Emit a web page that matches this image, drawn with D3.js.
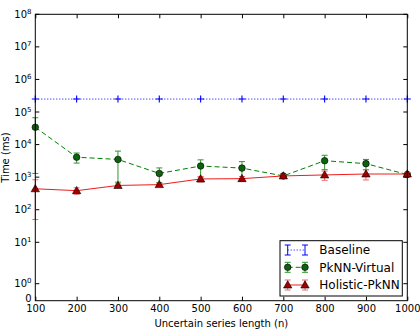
<!DOCTYPE html>
<html>
<head>
<meta charset="utf-8">
<script src="https://cdn.jsdelivr.net/npm/d3@7"></script>
<style>
  body { margin: 0; background: #fff; }
  svg { font-family: "DejaVu Sans", sans-serif; }
</style>
</head>
<body>
<div id="chart"></div>
<script>
// series length n
const lengths = [100, 200, 300, 400, 500, 600, 700, 800, 900, 1000];
// time in ms, with std error
const baseline = [2.5e5, 2.5e5, 2.5e5, 2.5e5, 2.5e5, 2.5e5, 2.5e5, 2.5e5, 2.5e5, 2.5e5];
const baselineErr = [0, 0, 0, 0, 0, 0, 0, 0, 0, 0];
const pknn = [34000, 4100, 3500, 1300, 2200, 1900, 1090, 3200, 2600, 1200];
const pknnErr = [32700, 1400, 2800, 620, 1200, 1100, 100, 1500, 900, 150];
const holistic = [440, 385, 556, 590, 880, 900, 1090, 1170, 1250, 1250];
const holisticErr = [390, 85, 60, 60, 170, 150, 100, 370, 430, 120];
const yTicks = [0, 1, 10, 100, 1e3, 1e4, 1e5, 1e6, 1e7, 1e8];
const names = ['Baseline', 'PkNN-Virtual', 'Holistic-PkNN'];

const W = 420, H = 334;
const L = 35.3, R = 407.3, T = 14.3, B = 300.7;

const svg = d3.select('#chart').append('svg')
    .attr('width', W)
    .attr('height', H);

const x = d3.scaleLinear().domain([100, 1000]).range([L, R]);
// symlog-like y: linear near zero, log above 10
const ylog = d3.scaleLog().domain([10, 1e8]).range([242.3, T]);
const ylin = d3.scaleLinear().domain([0, 1, 10]).range([B, 283.7, 242.3]);
const y = v => v >= 10 ? ylog(v) : ylin(Math.max(0, v));

// x axes (ticks pointing inwards)
svg.append('g')
    .attr('transform', `translate(0,${B})`)
    .call(d3.axisBottom(x).tickValues(lengths).tickFormat(d3.format('d')).tickSize(-4).tickPadding(4).tickSizeOuter(0))
    .call(g => g.select('.domain').remove())
    .call(g => g.selectAll('text').attr('font-size', 10).attr('fill', '#000').attr('font-family', 'DejaVu Sans'));

svg.append('g')
    .attr('transform', `translate(0,${T})`)
    .call(d3.axisTop(x).tickValues(lengths).tickSize(-4).tickFormat('').tickSizeOuter(0))
    .call(g => g.select('.domain').remove());

// y ticks, both sides
const yt = svg.append('g');
yt.selectAll('line.l').data(yTicks.slice(1)).enter().append('line')
    .attr('x1', L).attr('x2', L + 4)
    .attr('y1', d => y(d)).attr('y2', d => y(d))
    .attr('stroke', '#000');
yt.selectAll('line.r').data(yTicks.slice(1)).enter().append('line')
    .attr('x1', R).attr('x2', R - 4)
    .attr('y1', d => y(d)).attr('y2', d => y(d))
    .attr('stroke', '#000');

const lab = yt.selectAll('text').data(yTicks).enter().append('text')
    .attr('x', 31.5)
    .attr('y', d => d === 0 ? y(d) - 2 : y(d))
    .attr('dy', '0.35em')
    .attr('text-anchor', 'end')
    .attr('font-size', 10);
lab.filter(d => d === 0).text('0');
lab.filter(d => d > 0).each(function(d) {
    const t = d3.select(this);
    t.append('tspan').text('10');
    t.append('tspan').attr('font-size', 7).attr('dy', -4).text(Math.round(Math.log10(d)));
});

// axis labels
svg.append('text')
    .attr('x', (L + R) / 2).attr('y', 327)
    .attr('text-anchor', 'middle')
    .attr('font-size', 10)
    .text('Uncertain series length (n)');
svg.append('text')
    .attr('transform', `translate(8.5,${(T + B) / 2}) rotate(-90)`)
    .attr('text-anchor', 'middle')
    .attr('font-size', 10)
    .text('Time (ms)');

// series
const series = [
  { vals: baseline, err: baselineErr, line: '#0000ff', ebar: '#0000ff', dash: '1,2', marker: 'plus', fill: '#0000ff' },
  { vals: pknn, err: pknnErr, line: '#008000', ebar: '#2e962e', dash: '5,3', marker: 'circle', fill: '#0b640b' },
  { vals: holistic, err: holisticErr, line: '#f01c1c', ebar: '#f06a6a', dash: null, marker: 'tri', fill: '#a00000' }
];

function drawMarker(g, type, cx, cy, s) {
    if (type === 'plus') {
        g.append('path')
            .attr('d', `M${cx - 3.5},${cy}H${cx + 3.5}M${cx},${cy - 3.5}V${cy + 3.5}`)
            .attr('stroke', s.fill).attr('stroke-width', 1.1);
    } else if (type === 'circle') {
        g.append('circle').attr('cx', cx).attr('cy', cy).attr('r', 3.3)
            .attr('fill', s.fill).attr('stroke', '#000').attr('stroke-width', 0.6);
    } else {
        g.append('path')
            .attr('d', d3.symbol(d3.symbolTriangle, 30)())
            .attr('transform', `translate(${cx},${cy + 0.6})`)
            .attr('fill', s.fill).attr('stroke', '#000').attr('stroke-width', 0.6);
    }
}

function errBar(g, cx, y0, y1, color) {
    g.append('line').attr('x1', cx).attr('x2', cx).attr('y1', y0).attr('y2', y1)
        .attr('stroke', color).attr('stroke-width', 1);
    [y0, y1].forEach(yy => g.append('line')
        .attr('x1', cx - 3).attr('x2', cx + 3).attr('y1', yy).attr('y2', yy)
        .attr('stroke', color).attr('stroke-width', 1));
}

series.forEach(s => {
    const g = svg.append('g');
    s.vals.forEach((v, i) => {
        if (s.err[i] > 0) errBar(g, x(lengths[i]), y(v + s.err[i]), y(v - s.err[i]), s.ebar);
    });
    g.append('path')
        .datum(s.vals)
        .attr('d', d3.line().x((d, i) => x(lengths[i])).y(d => y(d)))
        .attr('fill', 'none')
        .attr('stroke', s.line)
        .attr('stroke-width', 1)
        .attr('stroke-dasharray', s.dash);
    s.vals.forEach((v, i) => drawMarker(g, s.marker, x(lengths[i]), y(v), s));
});

// frame
svg.append('rect')
    .attr('x', L).attr('y', T).attr('width', R - L).attr('height', B - T)
    .attr('fill', 'none').attr('stroke', '#000').attr('stroke-width', 1);

// legend
const lg = svg.append('g');
lg.append('rect')
    .attr('x', 280).attr('y', 240.7).attr('width', 122.3).attr('height', 55.3)
    .attr('fill', '#fff').attr('stroke', '#000').attr('stroke-width', 1);
const ly = [250, 267.3, 285];
series.forEach((s, i) => {
    const g = lg.append('g');
    const x0 = 287.7, x1 = 305;
    g.append('line').attr('x1', x0).attr('x2', x1).attr('y1', ly[i]).attr('y2', ly[i])
        .attr('stroke', s.line).attr('stroke-dasharray', s.dash);
    errBar(g, x0, ly[i] - 5, ly[i] + 5, s.ebar);
    errBar(g, x1, ly[i] - 5, ly[i] + 5, s.ebar);
    if (s.marker !== 'plus') {
        drawMarker(g, s.marker, x0, ly[i], s);
        drawMarker(g, s.marker, x1, ly[i], s);
    }
    g.append('text')
        .attr('x', 319.3).attr('y', ly[i]).attr('dy', '0.35em')
        .attr('font-size', 12)
        .text(names[i]);
});
</script>
</body>
</html>
